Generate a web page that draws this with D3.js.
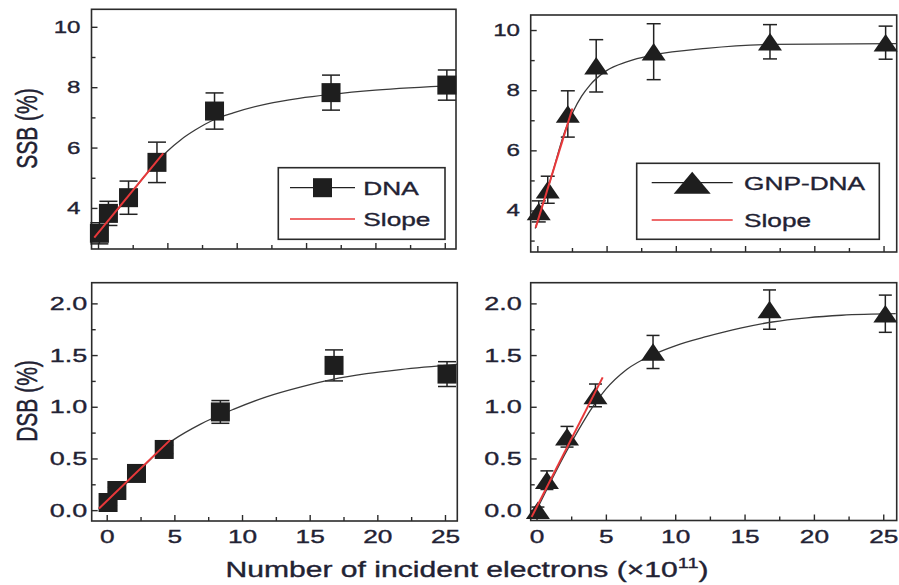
<!DOCTYPE html>
<html>
<head>
<meta charset="utf-8">
<script src="https://cdn.jsdelivr.net/npm/d3@7"></script>
<style>
	body { margin: 0; background: #fff; }
	svg { display: block; }
	text { font-family: "Liberation Sans", Arial, sans-serif; fill: #222233; stroke: #222233; stroke-width: 0.35; }
</style>
</head>
<body>
<script>
// electron doses, x10^11
var doses = [0.1, 0.75, 2.2, 4.25, 8.4, 16.8, 25.15];

// SSB (%)
var ssbDna = [3.16, 3.82, 4.34, 5.51, 7.21, 7.82, 8.07];
var ssbDnaErr = [0.35, 0.4, 0.55, 0.67, 0.6, 0.58, 0.5];
var ssbGnp = [3.97, 4.69, 7.21, 8.81, 9.28, 9.61, 9.58];
var ssbGnpErr = [0.35, 0.45, 0.77, 0.87, 0.93, 0.57, 0.55];

// DSB (%)
var dsbDna = [0.074, 0.19, 0.355, 0.587, 0.95, 1.40, 1.316];
var dsbDnaErr = [0.03, 0.03, 0.03, 0.04, 0.11, 0.15, 0.12];
var dsbGnp = [0.0, 0.29, 0.71, 1.11, 1.53, 1.94, 1.90];
var dsbGnpErr = [0.03, 0.09, 0.1, 0.11, 0.16, 0.19, 0.18];

// fitted curves as [dose, value]
var fitSsbDna = [[-0.3, 3.0], [1, 3.7], [2, 4.27], [3, 4.85], [4, 5.4], [5, 5.88], [6, 6.27], [7, 6.58], [8.4, 6.93], [9.75, 7.15], [12.2, 7.45], [14.5, 7.63], [16.8, 7.76], [20, 7.9], [25.8, 8.06]];
var fitSsbGnp = [[-0.15, 3.4], [1, 5.1], [2, 6.65], [2.6, 7.3], [3.2, 7.8], [3.8, 8.17], [5, 8.65], [6.45, 8.94], [8.4, 9.17], [12.2, 9.39], [17, 9.52], [25.9, 9.55]];
var fitDsbDna = [[-0.6, 0.015], [1, 0.2], [2, 0.33], [3, 0.46], [4, 0.59], [4.93, 0.68], [6.9, 0.83], [9.36, 0.975], [11.8, 1.096], [14.3, 1.19], [16.7, 1.265], [19.2, 1.32], [21.7, 1.36], [25.9, 1.41]];
var fitDsbGnp = [[0, 0.0], [1, 0.27], [2, 0.53], [3, 0.77], [4, 0.99], [5, 1.17], [6.5, 1.36], [8.5, 1.51], [10, 1.59], [12.3, 1.68], [14.7, 1.76], [17, 1.82], [19.5, 1.86], [22, 1.885], [25.9, 1.9]];

// initial slope lines (red)
var slopeSsbDna = [[-0.27, 3.02], [4.7, 5.81]];
var slopeSsbGnp = [[-0.12, 3.43], [2.53, 7.39]];
var slopeDsbDna = [[-0.57, 0.016], [4.68, 0.677]];
var slopeDsbGnp = [[-0.35, -0.065], [4.77, 1.284]];

// ticks
var xTicks = [0, 5, 10, 15, 20, 25];
var xMinorTicks = [2.5, 7.5, 12.5, 17.5, 22.5];
var ssbTicks = [4, 6, 8, 10];
var ssbMinorTicks = [3, 5, 7, 9];
var ssbTickLabels = ['4', '6', '8', '10'];
var dsbTicks = [0, 0.5, 1, 1.5, 2];
var dsbMinorTicks = [0.25, 0.75, 1.25, 1.75];
var dsbTickLabels = ['0.0', '0.5', '1.0', '1.5', '2.0'];

var seriesNames = ['DNA', 'GNP-DNA', 'Slope'];

// the original figure is stretched sideways, text too
var SX = 1.42;
var ink = '#2b2b2b';
var red = '#e8383a';

function triangle(w, h) {
	return 'M0,' + (-h / 2) + 'L' + (w / 2) + ',' + (h / 2) + 'L' + (-w / 2) + ',' + (h / 2) + 'Z';
}

function drawPanel(svg, p) {
	var x = d3.scaleLinear().domain(p.xDomain).range([p.box[0], p.box[2]]),
			y = d3.scaleLinear().domain(p.yDomain).range([p.box[3], p.box[1]]),
			g = svg.append('g');

	// bottom axis: ticks point inward
	var xAxis = g.append('g')
		.attr('transform', 'translate(0,' + p.box[3] + ')')
		.call(d3.axisBottom(x).tickValues(xTicks).tickSize(-6).tickPadding(9)
			.tickFormat(function(d) { return p.xLabels ? d : ''; }));
	g.append('g')
		.attr('transform', 'translate(0,' + p.box[3] + ')')
		.call(d3.axisBottom(x).tickValues(xMinorTicks).tickSize(-4).tickFormat(''));

	var yAxis = g.append('g')
		.attr('transform', 'translate(' + p.box[0] + ',0)')
		.call(d3.axisLeft(y).tickValues(p.yTicks).tickSize(-6).tickPadding(p.yGap / SX)
			.tickFormat(function(d, i) { return p.yLabels[i]; }));
	g.append('g')
		.attr('transform', 'translate(' + p.box[0] + ',0)')
		.call(d3.axisLeft(y).tickValues(p.yMinor).tickSize(-4).tickFormat(''));

	g.selectAll('.domain').remove();
	g.selectAll('.tick line').attr('stroke', ink).attr('stroke-width', 1.4);
	xAxis.selectAll('text')
		.attr('font-size', 18.5)
		.attr('transform', 'scale(' + SX + ',1)');
	yAxis.selectAll('text')
		.attr('font-size', p.yFont)
		.attr('transform', 'scale(' + SX + ',1)');
	g.selectAll('.tick text').attr('font-family', null).attr('fill', null);

	// frame
	g.append('rect')
		.attr('x', p.box[0])
		.attr('y', p.box[1])
		.attr('width', p.box[2] - p.box[0])
		.attr('height', p.box[3] - p.box[1])
		.attr('fill', 'none')
		.attr('stroke', ink)
		.attr('stroke-width', 1.6);

	var pts = doses.map(function(d, i) {
		return { x: d, y: p.values[i], e: p.errors[i] };
	});

	// error bars
	var eb = g.selectAll('g.err')
		.data(pts)
		.enter()
		.append('g')
		.attr('stroke', '#222')
		.attr('stroke-width', 1.5);
	eb.append('line')
		.attr('x1', function(d) { return x(d.x); })
		.attr('x2', function(d) { return x(d.x); })
		.attr('y1', function(d) { return y(d.y - d.e); })
		.attr('y2', function(d) { return y(d.y + d.e); });
	[-1, 1].forEach(function(s) {
		eb.append('line')
			.attr('x1', function(d) { return x(d.x) - p.cap / 2; })
			.attr('x2', function(d) { return x(d.x) + p.cap / 2; })
			.attr('y1', function(d) { return y(d.y + s * d.e); })
			.attr('y2', function(d) { return y(d.y + s * d.e); });
	});

	// fitted curve
	var line = d3.line()
		.x(function(d) { return x(d[0]); })
		.y(function(d) { return y(d[1]); })
		.curve(d3.curveMonotoneX);
	g.append('path')
		.attr('d', line(p.fit))
		.attr('fill', 'none')
		.attr('stroke', '#3a3a3a')
		.attr('stroke-width', 1.3);

	// markers
	if (p.marker === 'square') {
		g.selectAll('rect.pt')
			.data(pts)
			.enter()
			.append('rect')
			.attr('x', function(d) { return x(d.x) - 9.5; })
			.attr('y', function(d) { return y(d.y) - 9.5; })
			.attr('width', 19)
			.attr('height', 19)
			.attr('fill', '#1e1e1e');
	} else {
		g.selectAll('path.pt')
			.data(pts)
			.enter()
			.append('path')
			.attr('d', triangle(24, 17.5))
			.attr('transform', function(d) { return 'translate(' + x(d.x) + ',' + y(d.y) + ')'; })
			.attr('fill', '#1e1e1e');
	}

	// slope line on top
	g.append('path')
		.attr('d', d3.line().x(function(d) { return x(d[0]); }).y(function(d) { return y(d[1]); })(p.slope))
		.attr('stroke', red)
		.attr('stroke-width', 2);

	// legend
	if (p.legend) {
		var L = p.legend,
				lg = svg.append('g').attr('transform', 'translate(' + L.x + ',' + L.y + ')');
		lg.append('rect')
			.attr('width', L.w)
			.attr('height', L.h)
			.attr('fill', '#fff')
			.attr('stroke', ink)
			.attr('stroke-width', 1.6);
		lg.append('line')
			.attr('x1', L.x1).attr('x2', L.x2)
			.attr('y1', L.row1).attr('y2', L.row1)
			.attr('stroke', '#222').attr('stroke-width', 1.3);
		if (p.marker === 'square') {
			lg.append('rect')
				.attr('x', (L.x1 + L.x2) / 2 - 9.5)
				.attr('y', L.row1 - 9.5)
				.attr('width', 19).attr('height', 19)
				.attr('fill', '#1e1e1e');
		} else {
			lg.append('path')
				.attr('d', triangle(37, 22))
				.attr('transform', 'translate(' + ((L.x1 + L.x2) / 2) + ',' + L.row1 + ')')
				.attr('fill', '#1e1e1e');
		}
		lg.append('line')
			.attr('x1', L.x1).attr('x2', L.x2)
			.attr('y1', L.row2).attr('y2', L.row2)
			.attr('stroke', red).attr('stroke-width', 1.6);
		[[p.name, L.row1], [seriesNames[2], L.row2]].forEach(function(t) {
			lg.append('text')
				.attr('transform', 'translate(' + L.tx + ',' + (t[1] + 7) + ') scale(' + SX + ',1)')
				.attr('font-size', 18.5)
				.text(t[0]);
		});
	}
}

function ready() {
	var svg = d3.select('body')
		.append('svg')
		.attr('width', 899)
		.attr('height', 585);

	var panels = [
		{ box: [91.5, 9.3, 456, 249], xDomain: [-0.47, 25.81], yDomain: [2.64, 10.58],
			values: ssbDna, errors: ssbDnaErr, fit: fitSsbDna, slope: slopeSsbDna,
			marker: 'square', cap: 18, name: seriesNames[0],
			yTicks: ssbTicks, yMinor: ssbMinorTicks, yLabels: ssbTickLabels, yGap: 11, yFont: 17, xLabels: false,
			legend: { x: 278.3, y: 167.7, w: 166.7, h: 71.6, x1: 11.7, x2: 76.7, row1: 20, row2: 51.3, tx: 85 } },
		{ box: [530.7, 15, 896.7, 252], xDomain: [-0.48, 25.95], yDomain: [2.62, 10.5],
			values: ssbGnp, errors: ssbGnpErr, fit: fitSsbGnp, slope: slopeSsbGnp,
			marker: 'triangle', cap: 14, name: seriesNames[1],
			yTicks: ssbTicks, yMinor: ssbMinorTicks, yLabels: ssbTickLabels, yGap: 10.7, yFont: 17, xLabels: false,
			legend: { x: 636.7, y: 163.3, w: 242.6, h: 76, x1: 15, x2: 96, row1: 19.4, row2: 56.7, tx: 107.3 } },
		{ box: [91.7, 282.7, 457.3, 521], xDomain: [-1.11, 25.91], yDomain: [-0.105, 2.2],
			values: dsbDna, errors: dsbDnaErr, fit: fitDsbDna, slope: slopeDsbDna,
			marker: 'square', cap: 18, name: seriesNames[0],
			yTicks: dsbTicks, yMinor: dsbMinorTicks, yLabels: dsbTickLabels, yGap: 4.4, yFont: 19, xLabels: true },
		{ box: [530.7, 282.7, 896.7, 520.5], xDomain: [-0.42, 25.97], yDomain: [-0.1, 2.2],
			values: dsbGnp, errors: dsbGnpErr, fit: fitDsbGnp, slope: slopeDsbGnp,
			marker: 'triangle', cap: 13, name: seriesNames[1],
			yTicks: dsbTicks, yMinor: dsbMinorTicks, yLabels: dsbTickLabels, yGap: 9, yFont: 19, xLabels: true }
	];

	panels.forEach(function(p) { drawPanel(svg, p); });

	// axis titles
	svg.append('text')
		.attr('transform', 'translate(27,128.5) rotate(-90) scale(1,' + SX + ')')
		.attr('text-anchor', 'middle')
		.attr('dy', '0.35em')
		.attr('font-size', 21)
		.text('SSB (%)');
	svg.append('text')
		.attr('transform', 'translate(27,401) rotate(-90) scale(1,' + SX + ')')
		.attr('text-anchor', 'middle')
		.attr('dy', '0.35em')
		.attr('font-size', 21)
		.text('DSB (%)');

	var xt = svg.append('text')
		.attr('transform', 'translate(467,577) scale(' + SX + ',1)')
		.attr('text-anchor', 'middle')
		.attr('font-size', 21.2);
	xt.append('tspan').text('Number of incident electrons (\u00d710');
	xt.append('tspan').attr('font-size', 14).attr('dy', -9).text('11');
	xt.append('tspan').attr('dy', 9).text(')');
}

window.onload = function() {
	ready();
};
</script>
</body>
</html>
